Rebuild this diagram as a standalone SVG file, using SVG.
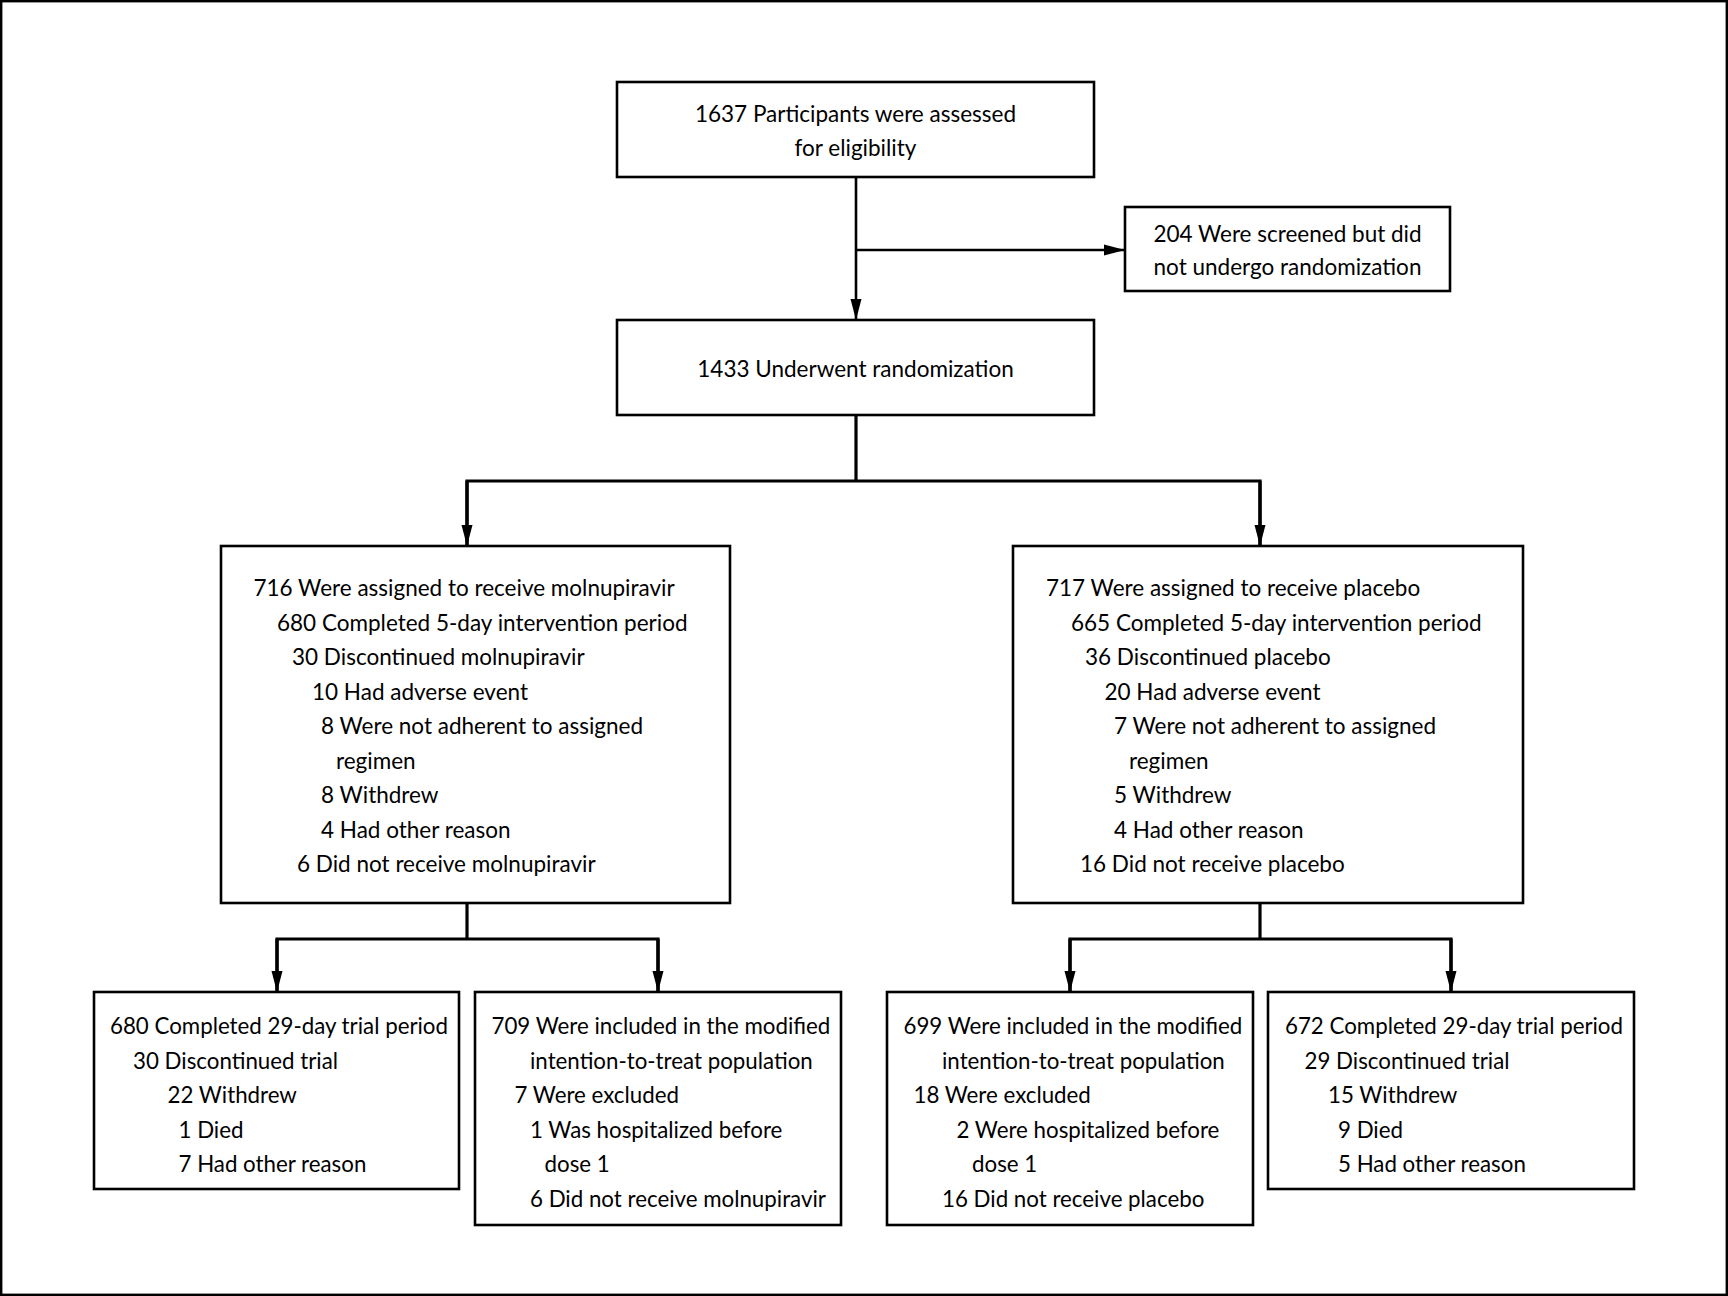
<svg xmlns="http://www.w3.org/2000/svg" width="1728" height="1296" viewBox="0 0 1728 1296">
<style>
  .box { fill: #fff; stroke: #000; stroke-width: 2.6; }
  .t { font-family: Lato, "Source Sans Pro", "Liberation Sans", sans-serif; font-size: 22.5px; fill: #000; }
  .s { font-size: 22.3px; }
  .c { text-anchor: middle; }
  .ln { fill: none; stroke: #000; stroke-width: 2.6; }
  .lnb { fill: none; stroke: #000; stroke-width: 3.2; }
</style>
<defs>
  <marker id="ah" markerUnits="userSpaceOnUse" markerWidth="21" markerHeight="12" refX="21" refY="6" orient="auto">
    <path d="M0,0.5 L21,6 L0,11.5 z" fill="#000"/>
  </marker>
</defs>
<rect x="0" y="0" width="1728" height="1296" fill="#fff"/>
<rect x="1.2" y="1.2" width="1725.6" height="1293.6" fill="none" stroke="#000" stroke-width="2.4"/>

<g id="connectors">
  <line class="ln" x1="856" y1="177" x2="856" y2="320" marker-end="url(#ah)"/>
  <line class="ln" x1="856" y1="250" x2="1125" y2="250" marker-end="url(#ah)"/>
  <polyline class="lnb" points="856,415 856,481"/>
  <polyline class="lnb" points="467,546 467,481 1260,481 1260,546"/>
  <line class="lnb" x1="467" y1="481" x2="467" y2="546" marker-end="url(#ah)"/>
  <line class="lnb" x1="1260" y1="481" x2="1260" y2="546" marker-end="url(#ah)"/>
  <polyline class="lnb" points="467,903 467,939"/>
  <polyline class="lnb" points="277,992 277,939 658,939 658,992"/>
  <line class="lnb" x1="277" y1="939" x2="277" y2="992" marker-end="url(#ah)"/>
  <line class="lnb" x1="658" y1="939" x2="658" y2="992" marker-end="url(#ah)"/>
  <polyline class="lnb" points="1260,903 1260,939"/>
  <polyline class="lnb" points="1070,992 1070,939 1451,939 1451,992"/>
  <line class="lnb" x1="1070" y1="939" x2="1070" y2="992" marker-end="url(#ah)"/>
  <line class="lnb" x1="1451" y1="939" x2="1451" y2="992" marker-end="url(#ah)"/>
</g>

<g id="assessed">
  <rect class="box" x="617" y="82" width="477" height="95"/>
  <text class="t c" x="855.5" y="121.5">1637 Participants were assessed</text>
  <text class="t c" x="855.5" y="155.5">for eligibility</text>
</g>

<g id="excluded">
  <rect class="box" x="1125" y="207" width="325" height="84"/>
  <text class="t c" x="1287.5" y="241.5">204 Were screened but did</text>
  <text class="t c" x="1287.5" y="275">not undergo randomization</text>
</g>

<g id="randomized">
  <rect class="box" x="617" y="320" width="477" height="95"/>
  <text class="t c" x="855.5" y="376.5">1433 Underwent randomization</text>
</g>

<g id="molnupiravir">
  <rect class="box" x="221" y="546" width="509" height="357"/>
  <text class="t" x="253.5" y="596">716 Were assigned to receive molnupiravir</text>
  <text class="t" x="277" y="630.5">680 Completed 5-day intervention period</text>
  <text class="t" x="292" y="665">30 Discontinued molnupiravir</text>
  <text class="t" x="312" y="699.5">10 Had adverse event</text>
  <text class="t" x="321" y="734">8 Were not adherent to assigned</text>
  <text class="t" x="336" y="768.5">regimen</text>
  <text class="t" x="321" y="803">8 Withdrew</text>
  <text class="t" x="321" y="837.5">4 Had other reason</text>
  <text class="t" x="297" y="872">6 Did not receive molnupiravir</text>
</g>

<g id="placebo">
  <rect class="box" x="1013" y="546" width="510" height="357"/>
  <text class="t" x="1046" y="596">717 Were assigned to receive placebo</text>
  <text class="t" x="1071" y="630.5">665 Completed 5-day intervention period</text>
  <text class="t" x="1085" y="665">36 Discontinued placebo</text>
  <text class="t" x="1104.5" y="699.5">20 Had adverse event</text>
  <text class="t" x="1114" y="734">7 Were not adherent to assigned</text>
  <text class="t" x="1129" y="768.5">regimen</text>
  <text class="t" x="1114" y="803">5 Withdrew</text>
  <text class="t" x="1114" y="837.5">4 Had other reason</text>
  <text class="t" x="1080" y="872">16 Did not receive placebo</text>
</g>

<g id="mol-completed">
  <rect class="box" x="94" y="992" width="365" height="197"/>
  <text class="t s" x="110" y="1034">680 Completed 29-day trial period</text>
  <text class="t s" x="133" y="1068.5">30 Discontinued trial</text>
  <text class="t s" x="167.5" y="1103">22 Withdrew</text>
  <text class="t s" x="178.5" y="1137.5">1 Died</text>
  <text class="t s" x="178.5" y="1172">7 Had other reason</text>
</g>

<g id="mol-mitt">
  <rect class="box" x="475" y="992" width="366" height="233"/>
  <text class="t s" x="491.5" y="1034">709 Were included in the modified</text>
  <text class="t s" x="530" y="1068.5">intention-to-treat population</text>
  <text class="t s" x="514.5" y="1103">7 Were excluded</text>
  <text class="t s" x="530" y="1137.5">1 Was hospitalized before</text>
  <text class="t s" x="544.5" y="1172">dose 1</text>
  <text class="t s" x="530" y="1206.5">6 Did not receive molnupiravir</text>
</g>

<g id="pla-mitt">
  <rect class="box" x="887" y="992" width="366" height="233"/>
  <text class="t s" x="903.5" y="1034">699 Were included in the modified</text>
  <text class="t s" x="942" y="1068.5">intention-to-treat population</text>
  <text class="t s" x="913.5" y="1103">18 Were excluded</text>
  <text class="t s" x="956.5" y="1137.5">2 Were hospitalized before</text>
  <text class="t s" x="972" y="1172">dose 1</text>
  <text class="t s" x="942" y="1206.5">16 Did not receive placebo</text>
</g>

<g id="pla-completed">
  <rect class="box" x="1268" y="992" width="366" height="197"/>
  <text class="t s" x="1285" y="1034">672 Completed 29-day trial period</text>
  <text class="t s" x="1304.5" y="1068.5">29 Discontinued trial</text>
  <text class="t s" x="1328" y="1103">15 Withdrew</text>
  <text class="t s" x="1338" y="1137.5">9 Died</text>
  <text class="t s" x="1338" y="1172">5 Had other reason</text>
</g>
</svg>
